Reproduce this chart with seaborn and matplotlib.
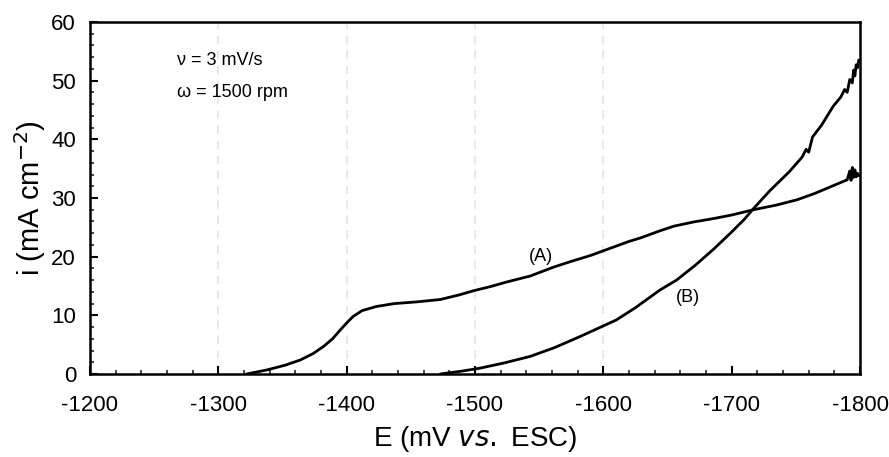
import matplotlib
matplotlib.use("Agg")
import matplotlib.pyplot as plt
import seaborn as sns
import pandas as pd
from matplotlib.ticker import MultipleLocator

# Curve (A)
E_A = [-1322, -1338, -1352, -1364, -1374, -1382, -1389, -1395, -1400, -1405,
       -1412, -1423, -1437, -1455, -1473, -1488, -1499, -1512, -1525, -1543,
       -1561, -1575, -1590, -1600, -1610, -1620, -1629, -1644, -1655, -1670,
       -1686, -1700, -1717, -1735, -1751, -1765, -1778, -1790, -1792, -1793,
       -1794, -1795, -1796, -1797, -1798, -1799]
i_A = [0.0, 0.7, 1.5, 2.4, 3.5, 4.7, 6.0, 7.5, 8.7, 9.8,
       10.8, 11.5, 12.0, 12.3, 12.7, 13.5, 14.2, 14.9, 15.7, 16.7,
       18.2, 19.2, 20.2, 21.0, 21.8, 22.6, 23.2, 24.4, 25.2, 25.9,
       26.5, 27.1, 28.0, 28.8, 29.7, 30.8, 32.0, 33.1, 34.6, 33.0,
       35.2, 33.5, 34.8, 33.6, 34.2, 33.8]

# Curve (B)
E_B = [-1473, -1490, -1504, -1523, -1543, -1562, -1582, -1596, -1610, -1625,
       -1644, -1657, -1672, -1686, -1699, -1710, -1717, -1730, -1745, -1755,
       -1758, -1760, -1763, -1770, -1779, -1785, -1788, -1790, -1792, -1794,
       -1795, -1796, -1797, -1798, -1799]
i_B = [0.0, 0.5, 1.0, 1.9, 3.0, 4.5, 6.4, 7.8, 9.2, 11.3,
       14.3, 16.0, 18.6, 21.3, 24.0, 26.4, 28.2, 31.3, 34.5, 37.0,
       38.3, 37.8, 40.4, 42.4, 45.6, 47.2, 48.5, 48.0, 50.2, 49.6,
       51.8, 50.8, 52.7, 52.2, 53.5]

x_ticks = [-1200, -1300, -1400, -1500, -1600, -1700, -1800]
y_ticks = [0, 10, 20, 30, 40, 50, 60]
grid_x = [-1300, -1400, -1500, -1600]

df = pd.concat([
    pd.DataFrame({"E": E_A, "i": i_A, "curve": "A"}),
    pd.DataFrame({"E": E_B, "i": i_B, "curve": "B"}),
], ignore_index=True)

sns.set_style("ticks")
plt.rcParams["font.family"] = ["Liberation Sans", "DejaVu Sans"]
plt.rcParams["text.color"] = "black"
plt.rcParams["axes.labelcolor"] = "black"

fig = plt.figure(figsize=(8.89, 4.57), dpi=100)
ax = fig.add_axes([0.1012, 0.1816, 0.8662, 0.7703])

for gx in grid_x:
    ax.axvline(gx, color="#e4e4e4", lw=1.2, ls=(0, (5, 4)), zorder=0)

sns.lineplot(data=df, x="E", y="i", hue="curve", palette=["black", "black"],
             sort=False, estimator=None, legend=False, lw=2.0, ax=ax)

ax.set_xlim(-1200, -1800)
ax.set_ylim(0, 60)
ax.set_xticks(x_ticks)
ax.set_xticklabels([str(v) for v in x_ticks])
ax.set_yticks(y_ticks)
ax.set_yticklabels([str(v) for v in y_ticks])
ax.xaxis.set_minor_locator(MultipleLocator(20))
ax.yaxis.set_minor_locator(MultipleLocator(2))
ax.tick_params(axis="both", which="major", direction="in", length=6, width=1.5,
               labelsize=16, colors="black")
ax.tick_params(axis="x", which="major", pad=15)
ax.tick_params(axis="y", which="major", pad=10)
ax.tick_params(axis="both", which="minor", direction="in", length=3, width=1.2)
ax.tick_params(top=False, right=False, which="both")
for s in ax.spines.values():
    s.set_visible(True)
    s.set_linewidth(1.8)
    s.set_color("black")

ax.set_xlabel("E (mV $\\it{vs.}$ ESC)", fontsize=20, labelpad=6)
ax.set_ylabel("i (mA cm$^{-2}$)", fontsize=21, labelpad=2)

ax.text(-1268, 53.5, "ν = 3 mV/s", fontsize=13, va="center", ha="left")
ax.text(-1268, 47.9, "ω = 1500 rpm", fontsize=13, va="center", ha="left")
ax.text(-1551, 20.0, "(A)", fontsize=13, va="center", ha="center")
ax.text(-1666, 13.0, "(B)", fontsize=13, va="center", ha="center")

fig.savefig("out.png", dpi=100)
